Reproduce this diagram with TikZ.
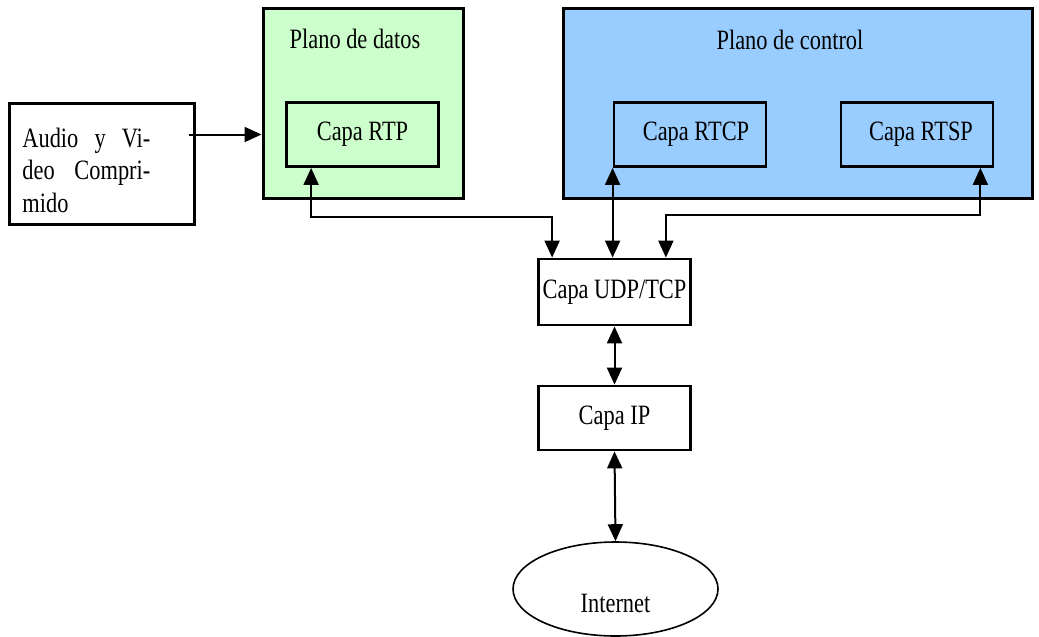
\documentclass[tikz,border=0pt]{standalone}
\usepackage{fontspec}
\setmainfont{Liberation Serif}[FakeStretch=0.8]
\usetikzlibrary{positioning, arrows.meta, shapes.geometric}
\definecolor{datosgreen}{HTML}{CCFFCC}
\definecolor{controlblue}{HTML}{99CCFF}

\begin{document}
\begin{tikzpicture}[x=0.5pt,y=-0.5pt,
    font=\fontsize{14}{16.25}\selectfont,
    plane/.style={draw,line width=1.5pt,inner sep=0pt,minimum height=95pt},
    layer/.style={draw,line width=1.4pt,inner sep=0pt,minimum width=76pt,minimum height=32pt},
    link/.style={line width=1pt,{Triangle[length=8.5pt,width=7.5pt]}-{Triangle[length=8.5pt,width=7.5pt]}},
    feed/.style={line width=1pt,-{Triangle[length=8.5pt,width=7.5pt]}}]
    \useasboundingbox (0,0) rectangle (1039,637);

    % Planes
    \node[plane,fill=datosgreen,minimum width=100pt] (datos) at (363,103) {};
    \node[plane,fill=controlblue,minimum width=234.5pt] (control) at (797.5,103) {};
    \node (datostit) at (355,39) {Plano de datos};
    \node (controltit) at (790,40) {Plano de control};

    % Layers
    \node[layer] (rtp) at (362.5,134.5) {Capa RTP};
    \node[layer] (rtcp) at (690,134.5) {\hspace{6pt}Capa RTCP};
    \node[layer] (rtsp) at (917,134.5) {\hspace{4pt}Capa RTSP};
    \node[layer,minimum height=33pt] (udp) at (614.5,292) {Capa UDP/TCP};
    \node[layer] (ip) at (614.5,418) {Capa IP\hspace{12pt}};
    \node[draw,ellipse,line width=0.8pt,minimum width=102.5pt,minimum height=47pt] (internet) at (615.5,589) {};
    \node (inettxt) at ([yshift=-7pt]internet.center) {Internet};

    % Source
    \node[draw,line width=1.5pt,minimum width=92.5pt,minimum height=60.5pt] (audio) at (101.5,163.5) {};
    \node[text width=64pt,align=left,inner sep=0pt,anchor=base west] (audiotxt) at (22,147)
        {Audio\hfill y\hfill Vi-\\deo\hfill Compri-\\mido};

    % Connections
    \draw[feed] ([xshift=-3.5pt]audio.east |- rtp.west) -- (datos.west |- rtp.west);
    \draw[link] ([xshift=13pt]rtp.south west) -- ++(0pt,-24.5pt) -| ([xshift=7.5pt]udp.north west);
    \draw[link] (rtcp.south west) -- (rtcp.south west |- udp.north);
    \draw[link] ([xshift=-7pt]rtsp.south east) -- ++(0pt,-23.5pt) -| ([xshift=-13pt]udp.north east);
    \draw[link] (udp.south) -- (ip.north);
    \draw[link] (ip.south) -- (internet.north);
\end{tikzpicture}
\end{document}
